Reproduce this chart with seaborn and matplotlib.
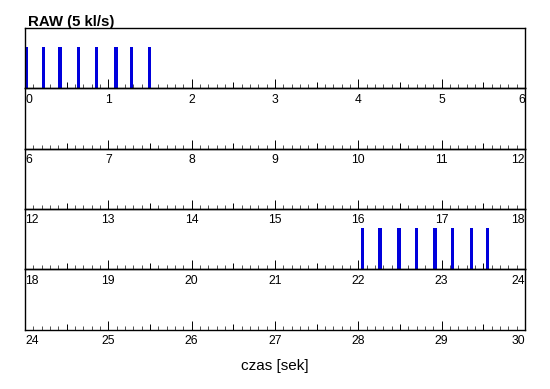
import numpy as np
import pandas as pd
import matplotlib
matplotlib.use("Agg")
import matplotlib.pyplot as plt
import seaborn as sns
from matplotlib.ticker import MultipleLocator

pulse_times = [0.02, 0.22, 0.42, 0.64, 0.86, 1.09, 1.28, 1.49,
               22.05, 22.26, 22.49, 22.70, 22.92, 23.13, 23.36, 23.55]
pulse_amp = [0.68] * len(pulse_times)
pulse_width = 0.04          # seconds
row_span = 6                # seconds per row
n_rows = 5

df = pd.DataFrame({"t": pulse_times, "amp": pulse_amp})

sns.set_style("white")
plt.rcParams["font.family"] = ["Liberation Sans", "DejaVu Sans"]
plt.rcParams["text.color"] = "black"
plt.rcParams["xtick.color"] = "black"
plt.rcParams["xtick.labelcolor"] = "black"

W, H = 550, 389
fig = plt.figure(figsize=(W / 100, H / 100), dpi=100)

left, right = 25, 525
top, row_h = 28, 60.3

for i in range(n_rows):
    y0 = top + row_h * (i + 1)
    ax = fig.add_axes([left / W, 1 - y0 / H, (right - left) / W, row_h / H])
    ax.set_facecolor("none")
    t0 = i * row_span
    sub = df[(df.t >= t0) & (df.t < t0 + row_span)]
    if len(sub) > 0:
        w = pulse_width / np.diff(np.sort(sub.t.values)).min()
        sns.barplot(data=sub, x="t", y="amp", native_scale=True, width=w,
                    color="#0000dc", saturation=1, linewidth=0, ax=ax)
    ax.set_xlim(t0, t0 + row_span)
    ax.set_ylim(0, 1)
    ax.set_yticks([])
    ax.set_xlabel("")
    ax.set_ylabel("")

    halves = np.arange(t0, t0 + row_span + 0.01, 0.5)
    labels = [str(int(round(v))) if abs(v - round(v)) < 1e-6 else "" for v in halves]
    ax.set_xticks(halves, labels)
    ax.xaxis.set_minor_locator(MultipleLocator(0.1))
    ax.tick_params(axis="x", which="major", direction="in", length=6.5, width=0.7,
                   pad=4, labelsize=8.7, color="black", labelcolor="black",
                   bottom=True, top=False)
    ax.tick_params(axis="x", which="minor", direction="in", length=2.6, width=0.6,
                   bottom=True, top=False, color="#333333")
    for v, tk in zip(halves, ax.xaxis.get_major_ticks()):
        if abs(v - round(v)) > 1e-6:
            tk.tick1line.set_markersize(4.5)
    tl = ax.get_xticklabels()
    tl[0].set_ha("left")
    tl[-1].set_ha("right")
    for s in ax.spines.values():
        s.set_color("black")
        s.set_linewidth(1.0)
        s.set_visible(True)

fig.text(28 / W, 1 - 26 / H, "RAW (5 kl/s)", fontsize=10.8, fontweight="bold",
         va="baseline", ha="left", color="black")
fig.text((left + right) / 2 / W, 1 - 370 / H, "czas [sek]", fontsize=11,
         va="baseline", ha="center", color="black")

fig.savefig("out.png", dpi=100, facecolor="white")
